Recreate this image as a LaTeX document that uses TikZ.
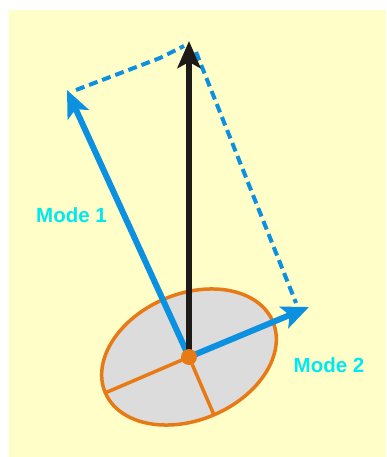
\documentclass[tikz,border=0pt]{standalone}
\usepackage{fontspec}
\setmainfont{Liberation Sans}
\usetikzlibrary{arrows.meta}
\definecolor{bgyellow}{RGB}{255,253,200}
\definecolor{modeblue}{RGB}{12,144,224}
\definecolor{diskorange}{RGB}{232,122,22}
\definecolor{diskgray}{RGB}{220,220,220}
\definecolor{darkarrow}{RGB}{30,26,24}
\definecolor{labelcyan}{RGB}{0,232,240}
\tikzset{
  vecarrow/.style={line width=6pt, -{Stealth[length=27pt,width=23pt,inset=6pt]}},
  dashline/.style={modeblue, line width=4pt, dash pattern=on 9pt off 5pt},
  spoke/.style={diskorange, line width=3.5pt},
  modelabel/.style={text=labelcyan, font=\bfseries\fontsize{20.5}{24}\selectfont, inner sep=0pt}
}
\begin{document}
\begin{tikzpicture}[x=1pt,y=-1pt]
\useasboundingbox (0,0) rectangle (386,457);
\fill[bgyellow] (9,10) rectangle (386,457);
\coordinate (O) at (189,357);
\coordinate (T) at (189,41);
\coordinate (M1) at (67,90);
\coordinate (M2) at (309,307);
\coordinate (D1a) at (76,90);
\coordinate (D1b) at (160,58);
\coordinate (D1c) at (184,46);
\coordinate (D2a) at (196,52);
\coordinate (D2b) at (296,303);
\coordinate (E1) at (105,393);
\coordinate (E2) at (214,415);
% disk
\draw[diskorange, line width=3.5pt, fill=diskgray] (O) ellipse [x radius=91, y radius=63, rotate=23];
\draw[spoke] (O) -- (E1);
\draw[spoke] (O) -- (E2);
% dashed parallelogram
\draw[dashline] (D1a) -- (D1b) -- (D1c);
\draw[dashline] (D2a) -- (D2b);
% vectors
\draw[vecarrow, modeblue] (O) -- (M1);
\draw[vecarrow, modeblue] (O) -- (M2);
\draw[vecarrow, darkarrow] (O) -- (T);
\fill[diskorange] (O) circle (8);
% labels
\node[modelabel] (L1) at (71.5,215) {Mode 1};
\node[modelabel] (L2) at (329,365) {Mode 2};
\end{tikzpicture}
\end{document}
